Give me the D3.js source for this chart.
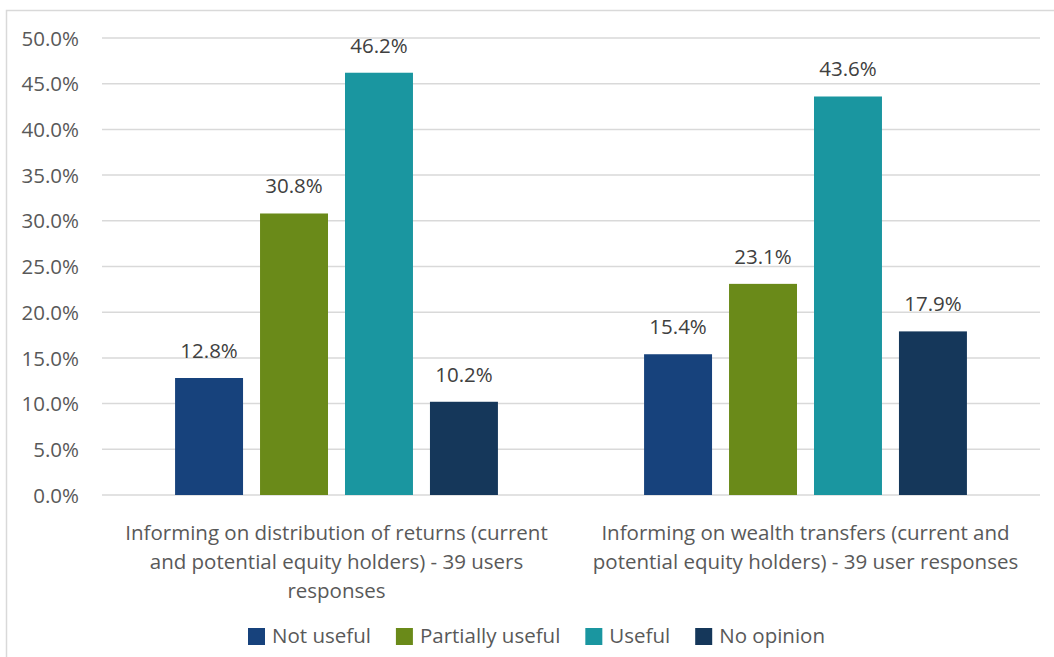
<!DOCTYPE html>
<html>
<head>
<meta charset="utf-8">
<script src="https://cdn.jsdelivr.net/npm/d3@7"></script>
<style>
  body { margin: 0; background: #fff; }
  svg text { font-family: 'Open Sans', 'Noto Sans', sans-serif; }
</style>
</head>
<body>
<svg id="chart" width="1054" height="657"></svg>
<script>
var categories = ['returns', 'wealth']
var categoryLines = [
  ['Informing on distribution of returns (current', 'and potential equity holders) - 39 users', 'responses'],
  ['Informing on wealth transfers (current and', 'potential equity holders) - 39 user responses']
]
var seriesNames = ['Not useful', 'Partially useful', 'Useful', 'No opinion']
var seriesColors = ['#17427c', '#6a8a19', '#1a96a0', '#15375a']
var notUseful = [12.8, 15.4]
var partiallyUseful = [30.8, 23.1]
var useful = [46.2, 43.6]
var noOpinion = [10.2, 17.9]
var yTicks = [0, 5, 10, 15, 20, 25, 30, 35, 40, 45, 50]

var seriesValues = [notUseful, partiallyUseful, useful, noOpinion]
var fontSize = 20.5

var svg = d3.select('#chart')

// outer frame
svg.append('rect')
  .attr('x', 6.5).attr('y', 10.5)
  .attr('width', 1100).attr('height', 700)
  .attr('fill', 'none')
  .attr('stroke', '#d9d9d9')
  .attr('stroke-width', 1.5)

var plotLeft = 102, plotRight = 1040, plotTop = 38, plotBottom = 495

var y = d3.scaleLinear().domain([0, 50]).range([plotBottom, plotTop])
var x0 = d3.scaleBand().domain(categories).range([plotLeft, plotRight])
var x1 = d3.scaleBand().domain(seriesNames).range([0, x0.bandwidth()])
  .paddingInner(0.2).paddingOuter(0.86)

// gridlines
svg.append('g').selectAll('line')
  .data(yTicks)
  .enter().append('line')
  .attr('x1', plotLeft).attr('x2', plotRight)
  .attr('y1', function (d) { return y(d) }).attr('y2', function (d) { return y(d) })
  .attr('stroke', '#d9d9d9')
  .attr('stroke-width', 1.5)

// y axis labels
var yAxis = d3.axisLeft(y).tickValues(yTicks).tickSize(0).tickPadding(0)
  .tickFormat(function (d) { return d.toFixed(1) + '%' })
var gy = svg.append('g').attr('transform', 'translate(79,0)').call(yAxis)
gy.select('.domain').remove()
gy.selectAll('text')
  .attr('font-size', fontSize).attr('fill', '#595959')
  .attr('font-family', "'Open Sans', 'Noto Sans', sans-serif")
  .attr('dy', '0.35em')

// bars
var groups = svg.append('g').selectAll('g')
  .data(categories)
  .enter().append('g')
  .attr('transform', function (d) { return 'translate(' + x0(d) + ',0)' })

groups.selectAll('rect')
  .data(function (d, ci) {
    return seriesNames.map(function (s, si) { return { s: s, si: si, v: seriesValues[si][ci] } })
  })
  .enter().append('rect')
  .attr('x', function (d) { return x1(d.s) })
  .attr('width', x1.bandwidth())
  .attr('y', function (d) { return y(d.v) })
  .attr('height', function (d) { return plotBottom - y(d.v) })
  .attr('fill', function (d) { return seriesColors[d.si] })

groups.selectAll('text.val')
  .data(function (d, ci) {
    return seriesNames.map(function (s, si) { return { s: s, v: seriesValues[si][ci] } })
  })
  .enter().append('text')
  .attr('class', 'val')
  .attr('x', function (d) { return x1(d.s) + x1.bandwidth() / 2 })
  .attr('y', function (d) { return y(d.v) - 20 })
  .attr('text-anchor', 'middle')
  .attr('font-size', fontSize)
  .attr('fill', '#404040')
  .text(function (d) { return d.v.toFixed(1) + '%' })

// category labels
categories.forEach(function (c, ci) {
  var t = svg.append('text')
    .attr('text-anchor', 'middle')
    .attr('font-size', fontSize)
    .attr('fill', '#595959')
  categoryLines[ci].forEach(function (line, li) {
    t.append('tspan')
      .attr('x', x0(c) + x0.bandwidth() / 2)
      .attr('y', 540 + li * 29)
      .text(line)
  })
})

// legend
var legend = svg.append('g')
var lx = 0
seriesNames.forEach(function (s, i) {
  var item = legend.append('g').attr('transform', 'translate(' + lx + ',0)')
  item.append('rect')
    .attr('x', 0).attr('y', -8)
    .attr('width', 17).attr('height', 17)
    .attr('fill', seriesColors[i])
  var txt = item.append('text')
    .attr('x', 24).attr('y', 0)
    .attr('dy', '0.35em')
    .attr('font-size', fontSize)
    .attr('fill', '#595959')
    .text(s)
  lx += 24 + txt.node().getComputedTextLength() + 25
})
var legendWidth = lx - 25
legend.attr('transform', 'translate(' + (536.5 - legendWidth / 2) + ',636)')
</script>
</body>
</html>
